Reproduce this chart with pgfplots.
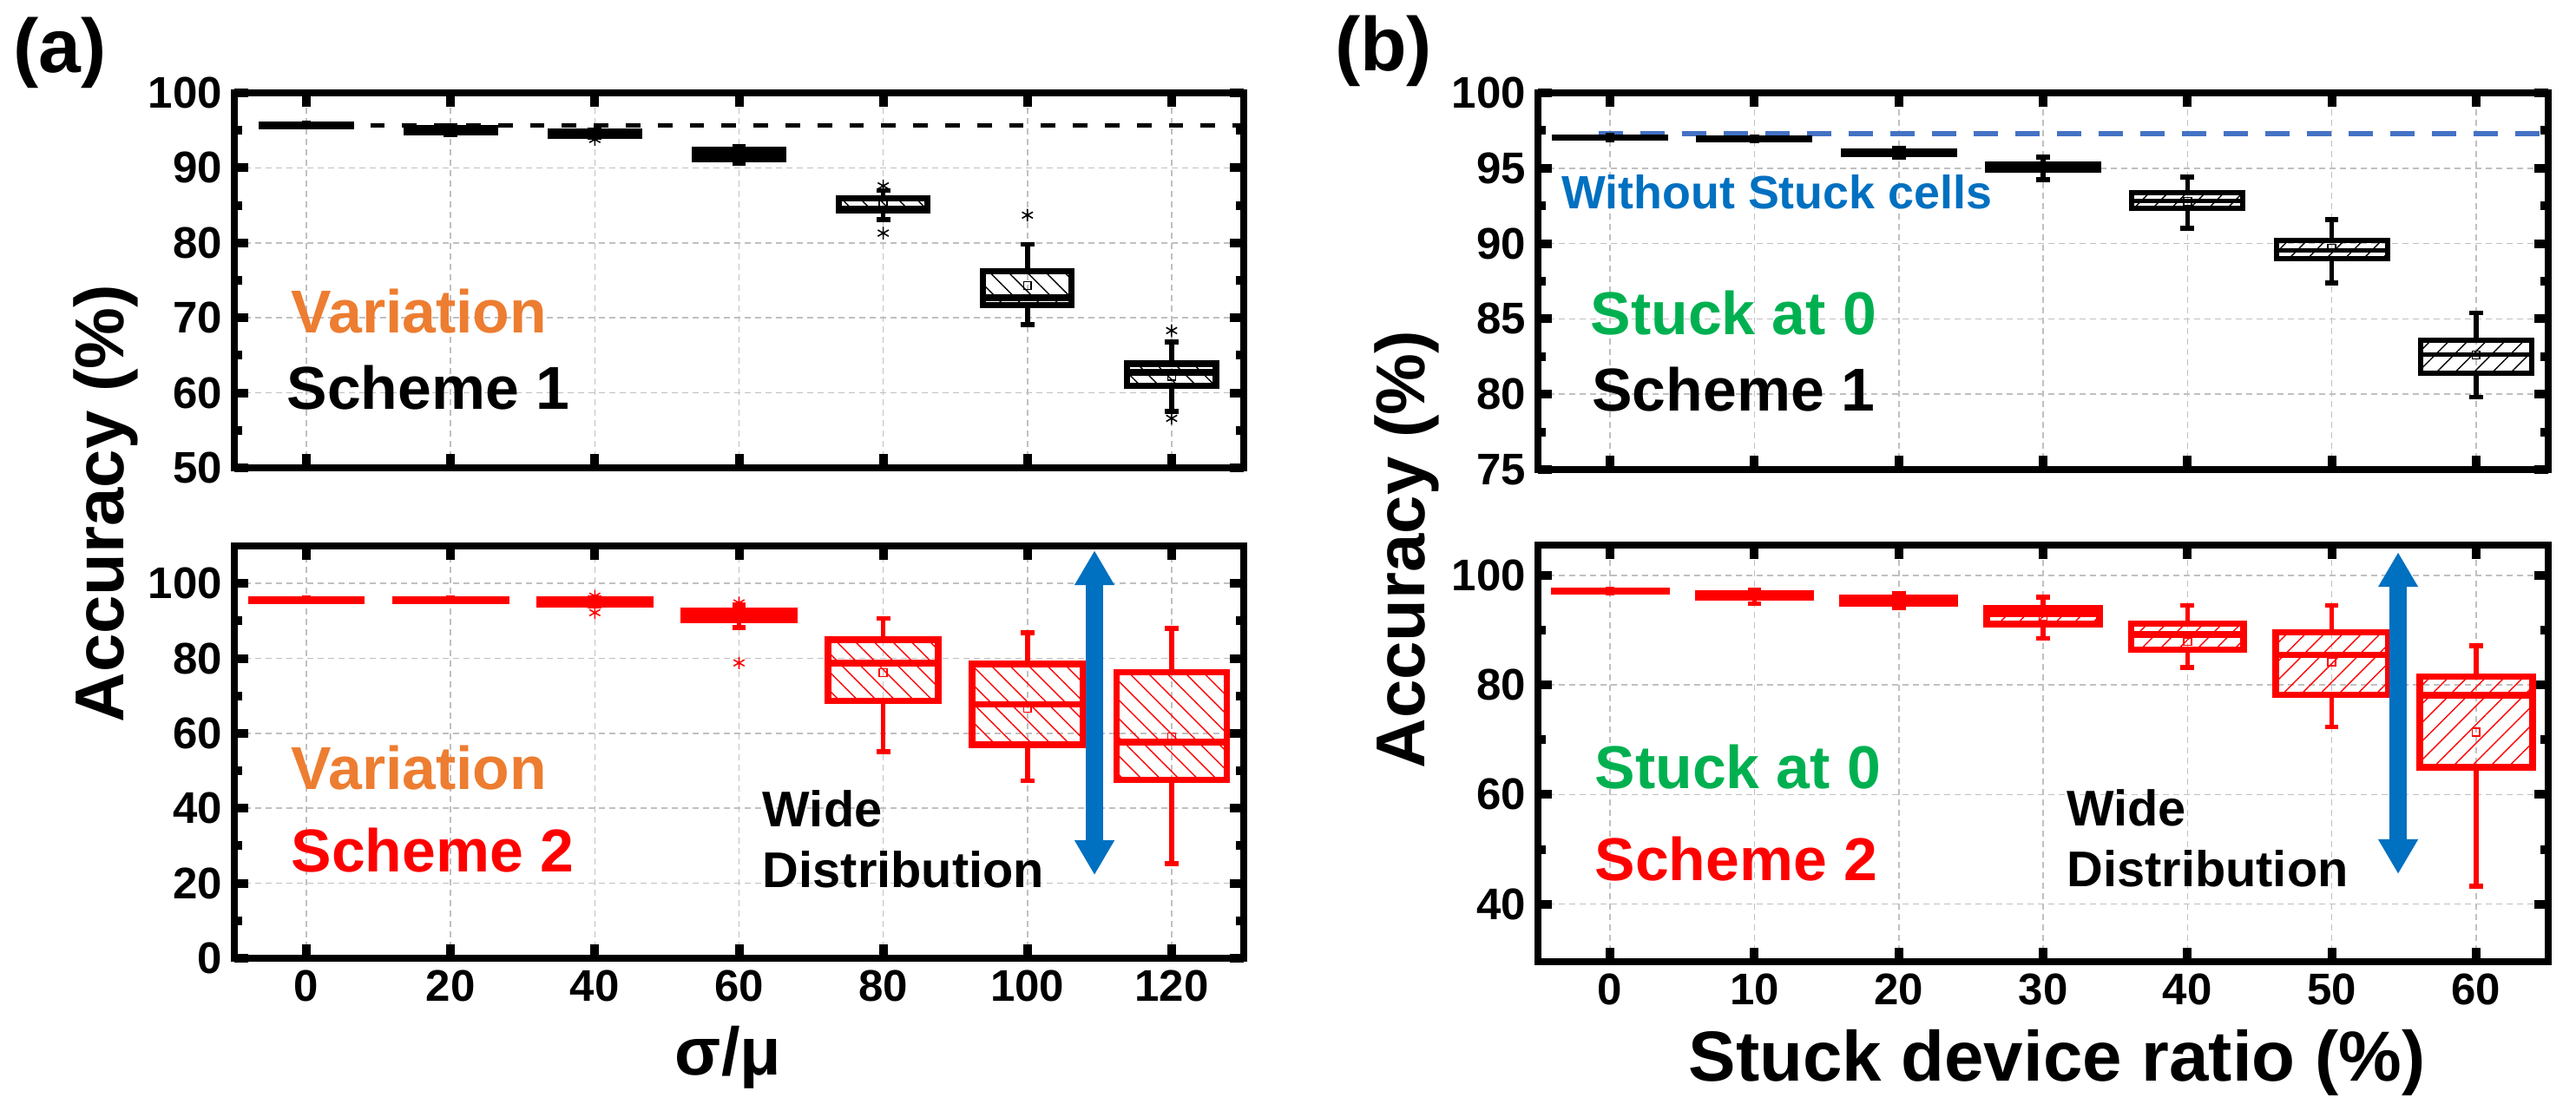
\documentclass[border=0pt]{standalone}
\usepackage{pgfplots}
\pgfplotsset{compat=1.18}
\usepgfplotslibrary{statistics}
\usetikzlibrary{patterns.meta,arrows.meta}
\usepackage{fontspec}
\setmainfont{Liberation Sans}

\definecolor{varorange}{HTML}{ED7D31}
\definecolor{stuckgreen}{HTML}{00B050}
\definecolor{arrowblue}{HTML}{0070C0}
\definecolor{refblue}{HTML}{4472C4}
\definecolor{gridgray}{HTML}{C0C0C0}

\newcommand{\fs}[1]{\fontsize{#1}{#1}\selectfont\bfseries}

\pgfplotsset{
  panel/.style={
    scale only axis, anchor=south west, clip=false,
    tick align=inside,
    axis line style={line width=2.2bp},
    major tick length=4bp, minor tick length=2.2bp,
    major tick style={black, line width=2.5bp},
    minor tick style={black, line width=2.5bp},
    minor y tick num=1, minor x tick num=0,
    grid=major,
    major grid style={gridgray, line width=0.4bp, dash pattern=on 1.8bp off 1.2bp},
    tick label style={font=\fs{12.8}},
    /pgf/number format/assume math mode=true,
  },
  bpr/.style n args={7}{boxplot prepared={draw position=#1, lower whisker=#2,
      lower quartile=#3, median=#4, upper quartile=#5, upper whisker=#6, average=#7}},
  bxbase/.style={
    boxplot/draw direction=y,
    mark=asterisk, mark size=1.8bp, mark options={line width=0.4bp, solid},
    boxplot/every median/.style={line width=1.9bp},
    boxplot/every whisker/.style={line width=1.4bp},
    boxplot/every average/.style={/tikz/mark=square, /tikz/mark size=1.1bp,
      /tikz/mark options={line width=0.4bp, fill=none}},
  },
  bxA/.style={bxbase, black, boxplot/box extend=12.3, boxplot/whisker extend=1.9,
    boxplot/every box/.style={line width=1.8bp,
      pattern={Lines[angle=-45,distance=3.8bp,line width=0.35bp]}, pattern color=black}},
  bxAr/.style={bxbase, red, boxplot/box extend=15.3, boxplot/whisker extend=1.9,
    boxplot/every box/.style={line width=1.9bp,
      pattern={Lines[angle=-45,distance=3.8bp,line width=0.35bp]}, pattern color=red}},
  bxB/.style={bxbase, black, boxplot/box extend=7.7, boxplot/whisker extend=0.95,
    boxplot/every median/.style={line width=1.3bp},
    boxplot/every box/.style={line width=1.5bp,
      pattern={Lines[angle=45,distance=3.8bp,line width=0.35bp]}, pattern color=black}},
  bxBr/.style={bxbase, red, boxplot/box extend=7.8, boxplot/whisker extend=0.95,
    boxplot/every box/.style={line width=1.9bp,
      pattern={Lines[angle=45,distance=3.8bp,line width=0.35bp]}, pattern color=red}},
}

\begin{document}
\begin{tikzpicture}
\useasboundingbox (0,0) rectangle (742bp,320bp);

% ---------- (a) Scheme 1 ----------
\begin{axis}[panel, at={(67.5bp,185.25bp)}, width=290.75bp, height=108bp,
  xmin=-10, xmax=130, ymin=50, ymax=100,
  xtick={0,20,...,120}, xticklabels={}, ytick={50,60,...,100}]
\addplot[black, line width=1.3bp, dash pattern=on 4.2bp off 5bp] coordinates {(0,95.7) (130,95.7)};
\addplot[bxA, bpr={0}{95.5}{95.6}{95.7}{95.8}{95.9}{95.7}] coordinates {};
\addplot[bxA, bpr={20}{94.4}{94.7}{95.0}{95.3}{95.6}{95.0}] coordinates {};
\addplot[bxA, bpr={40}{94.1}{94.3}{94.5}{94.8}{95.0}{94.5}] table[row sep=\\,y index=0] {data\\ 93.8\\};
\addplot[bxA, bpr={60}{90.6}{91.2}{91.8}{92.4}{92.9}{91.8}] coordinates {};
\addplot[bxA, bpr={80}{83.1}{84.3}{84.5}{85.9}{87.0}{85.2}] table[row sep=\\,y index=0] {data\\ 81.3\\ 87.6\\};
\addplot[bxA, bpr={100}{69.1}{71.7}{72.7}{76.2}{79.8}{74.3}] table[row sep=\\,y index=0] {data\\ 83.7\\};
\addplot[bxA, bpr={120}{57.5}{60.9}{62.7}{63.9}{66.8}{62.2}] table[row sep=\\,y index=0] {data\\ 56.6\\ 68.3\\};
\node[anchor=west, inner sep=0, font=\fs{17.5}, text=varorange] at (axis cs:-2.2,70.9) {Variation};
\node[anchor=west, inner sep=0, font=\fs{17.5}, text=black] at (axis cs:-2.8,60.7) {Scheme 1};
\end{axis}

% ---------- (a) Scheme 2 ----------
\begin{axis}[panel, at={(67.5bp,44bp)}, width=290.75bp, height=118.75bp,
  xmin=-10, xmax=130, ymin=0, ymax=110,
  xtick={0,20,...,120}, ytick={0,20,...,100}]
\addplot[bxAr, bpr={0}{95.4}{95.45}{95.6}{95.75}{95.8}{95.6}] coordinates {};
\addplot[bxAr, bpr={20}{95.4}{95.45}{95.6}{95.75}{95.8}{95.6}] coordinates {};
\addplot[bxAr, bpr={40}{94.0}{94.5}{95.2}{95.6}{96.2}{95.0}] table[row sep=\\,y index=0] {data\\ 92.2\\ 96.6\\};
\addplot[bxAr, bpr={60}{88.3}{90.3}{90.8}{92.6}{94.3}{91.5}] table[row sep=\\,y index=0] {data\\ 78.8\\ 94.8\\};
\addplot[bxAr, bpr={80}{55.1}{68.7}{78.7}{85.0}{90.7}{76.2}] coordinates {};
\addplot[bxAr, bpr={100}{47.4}{56.9}{67.7}{78.5}{86.8}{66.7}] coordinates {};
\addplot[bxAr, bpr={120}{25.3}{47.6}{57.7}{76.3}{88.0}{59.1}] coordinates {};
\draw[arrowblue, line width=4.8bp, {Triangle[width=10.8bp,length=10bp]}-{Triangle[width=10.8bp,length=10bp]}]
  (axis cs:109.3,22.2) -- (axis cs:109.3,108.8);
\node[anchor=west, inner sep=0, font=\fs{17.5}, text=varorange] at (axis cs:-2.2,50.8) {Variation};
\node[anchor=west, inner sep=0, font=\fs{17.5}, text=red] at (axis cs:-2.2,28.8) {Scheme 2};
\node[anchor=west, inner sep=0, align=left, font=\fontsize{14.5}{17.4}\selectfont\bfseries]
  at (axis cs:63.2,31.8) {Wide\\Distribution};
\end{axis}

% ---------- (b) Scheme 1 ----------
\begin{axis}[panel, at={(443bp,184.75bp)}, width=291bp, height=108.5bp,
  xmin=-5, xmax=65, ymin=75, ymax=100,
  xtick={0,10,...,60}, xticklabels={}, ytick={75,80,...,100}]
\addplot[refblue, line width=1.5bp, dash pattern=on 7bp off 5bp] coordinates {(-0.8,97.3) (65,97.3)};
\addplot[bxB, bpr={0}{96.98}{97.0}{97.04}{97.08}{97.1}{97.04}] coordinates {};
\addplot[bxB, bpr={10}{96.85}{96.88}{96.95}{97.0}{97.02}{96.95}] coordinates {};
\addplot[bxB, bpr={20}{95.7}{95.9}{96.05}{96.15}{96.35}{96.05}] coordinates {};
\addplot[bxB, bpr={30}{94.25}{94.85}{95.1}{95.25}{95.75}{95.05}] coordinates {};
\addplot[bxB, bpr={40}{91.0}{92.35}{92.85}{93.4}{94.4}{92.8}] coordinates {};
\addplot[bxB, bpr={50}{87.4}{89.0}{89.55}{90.2}{91.6}{89.7}] coordinates {};
\addplot[bxB, bpr={60}{79.8}{81.4}{82.65}{83.6}{85.4}{82.6}] coordinates {};
\node[anchor=west, inner sep=0, font=\fs{13.5}, text=arrowblue] at (axis cs:-3.4,93.4) {Without Stuck cells};
\node[anchor=west, inner sep=0, font=\fs{17.5}, text=stuckgreen] at (axis cs:-1.4,85.4) {Stuck at 0};
\node[anchor=west, inner sep=0, font=\fs{17.5}, text=black] at (axis cs:-1.3,80.3) {Scheme 1};
\end{axis}

% ---------- (b) Scheme 2 ----------
\begin{axis}[panel, at={(443bp,43bp)}, width=291bp, height=120bp,
  xmin=-5, xmax=65, ymin=29.5, ymax=105.5,
  xtick={0,10,...,60}, ytick={40,60,80,100}]
\addplot[bxBr, bpr={0}{97.0}{97.0}{97.1}{97.2}{97.2}{97.1}] coordinates {};
\addplot[bxBr, bpr={10}{94.8}{96.0}{96.4}{96.7}{97.3}{96.4}] coordinates {};
\addplot[bxBr, bpr={20}{94.1}{94.8}{95.3}{95.9}{96.7}{95.3}] coordinates {};
\addplot[bxBr, bpr={30}{88.5}{91.1}{93.0}{94.0}{96.0}{92.5}] coordinates {};
\addplot[bxBr, bpr={40}{83.2}{86.4}{89.2}{91.2}{94.5}{87.9}] coordinates {};
\addplot[bxBr, bpr={50}{72.3}{78.2}{85.5}{89.6}{94.5}{84.2}] coordinates {};
\addplot[bxBr, bpr={60}{43.3}{65.0}{78.1}{81.5}{87.1}{71.4}] coordinates {};
\draw[arrowblue, line width=4.8bp, {Triangle[width=10.8bp,length=10bp]}-{Triangle[width=10.8bp,length=10bp]}]
  (axis cs:54.6,45.5) -- (axis cs:54.6,104.2);
\node[anchor=west, inner sep=0, font=\fs{17.5}, text=stuckgreen] at (axis cs:-1.1,65) {Stuck at 0};
\node[anchor=west, inner sep=0, font=\fs{17.5}, text=red] at (axis cs:-1.1,48.3) {Scheme 2};
\node[anchor=west, inner sep=0, align=left, font=\fontsize{14.5}{17.4}\selectfont\bfseries]
  at (axis cs:31.6,52) {Wide\\Distribution};
\end{axis}

% ---------- panel labels and axis titles ----------
\node[font=\fs{22}] at (17.25bp,304.75bp) {(a)};
\node[font=\fs{22}] at (398.5bp,305.25bp) {(b)};
\node[font=\fs{20}, rotate=90, anchor=base] at (35.5bp,175bp) {Accuracy (\%)};
\node[font=\fs{20}, rotate=90, anchor=base] at (410.25bp,161.75bp) {Accuracy (\%)};
\node[font=\fs{19.5}, anchor=base] at (209.75bp,10.5bp) {σ/μ};
\node[font=\fs{20.5}, anchor=base] at (592.5bp,8.75bp) {Stuck device ratio (\%)};
\end{tikzpicture}
\end{document}
